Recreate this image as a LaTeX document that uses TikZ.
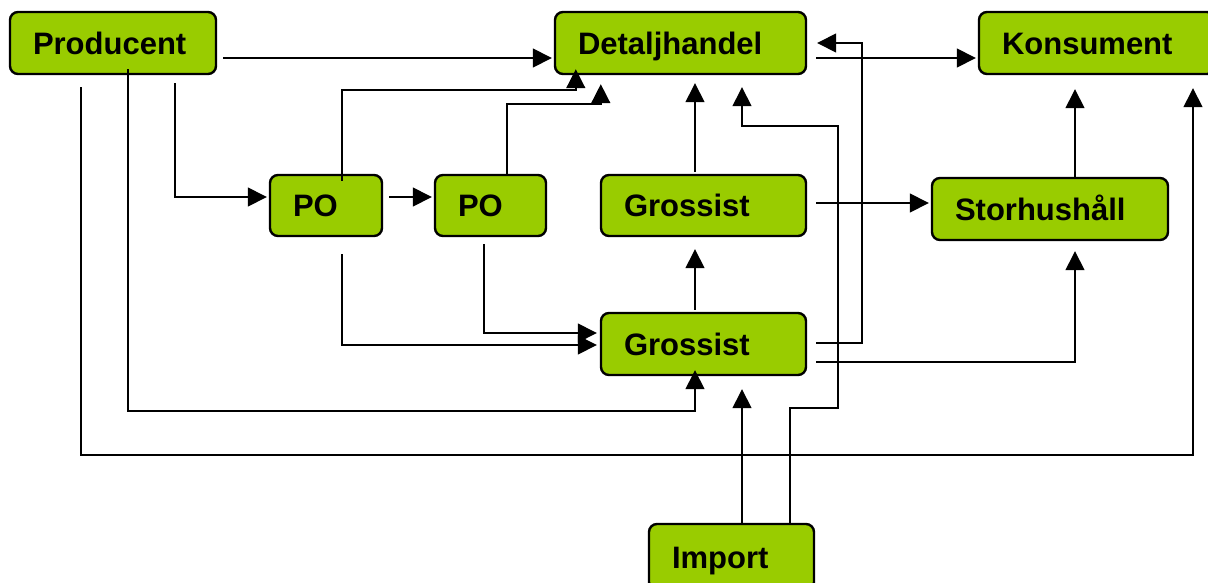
\documentclass[tikz,border=0pt]{standalone}
\usepackage{fontspec}
\setmainfont{Liberation Sans}
\usetikzlibrary{arrows.meta,calc}
\definecolor{boxgreen}{HTML}{99CC00}
\begin{document}
\begin{tikzpicture}[x=1pt,y=-1pt,
  box/.style={draw=black,fill=boxgreen,line width=2.4pt,rounded corners=8pt,
    minimum height=62pt,inner xsep=23pt,inner ysep=0pt,align=left,
    text height=22pt,text depth=0pt,
    font=\fontsize{31}{36}\selectfont\bfseries},
  conn/.style={line width=1.5pt,-{Triangle[length=19pt,width=19pt]}},
  plain/.style={line width=1.5pt}]
\useasboundingbox (0,0) rectangle (1208,582);
\clip (0,0) rectangle (1208,582);
% nodes
\node[box,text width=160pt] (prod) at (113,43) {Producent};
\node[box,text width=205pt] (det) at (680.5,43) {Detaljhandel};
\node[box,text width=190pt] (kon) at (1097,43) {Konsument};
\node[box,text width=66pt,minimum height=61pt] (po1) at (326,205.5) {PO};
\node[box,text width=65pt,minimum height=61pt] (po2) at (490.5,205.5) {PO};
\node[box,text width=159pt,minimum height=61pt] (g1) at (703.5,205.5) {Grossist};
\node[box,text width=190pt] (sto) at (1050,209) {Storhushåll};
\node[box,text width=159pt] (g2) at (703.5,344) {Grossist};
\node[box,text width=119pt,minimum height=66pt] (imp) at (731.5,557) {Import};
% connectors
\draw[conn] ([shift={(6,15)}]prod.east) -- ([shift={(-2,15)}]det.west);
\draw[conn] ([shift={(62,8)}]prod.south) |- ([shift={(-2,-8.5)}]po1.west);
\draw[conn] ([shift={(15,-6)}]prod.south) -- (128,411) -| ([shift={(-8.5,-6)}]g2.south);
\draw[conn] ([shift={(-32,12)}]prod.south) -- (81,455) -| ([shift={(96,13)}]kon.south);
\draw[conn] ([shift={(16,7)}]po1.north) -- (342,90) -| ([shift={(22,-6)}]det.south west);
\draw[conn] ([shift={(16.5,0)}]po2.north) -- (507,104) -| ([shift={(47,9)}]det.south west);
\draw[conn] ([shift={(6,-8.5)}]po1.east) -- ([shift={(-2,-8.5)}]po2.west);
\draw[conn] ([shift={(16,17)}]po1.south) |- ([shift={(-3,1)}]g2.west);
\draw[conn] ([shift={(-6.5,7)}]po2.south) |- ([shift={(-3,-11)}]g2.west);
\draw[conn] ([shift={(-8.5,-2)}]g1.north) -- ([shift={(14.5,8)}]det.south);
\draw[conn] ([shift={(-8.5,-2)}]g2.north) -- ([shift={(-8.5,12)}]g1.south);
\draw[conn] ([shift={(9,-2.5)}]g1.east) -- ([shift={(-2,-6)}]sto.west);
\draw[conn] ([shift={(25,0)}]sto.north) -- ([shift={(-22,14)}]kon.south);
\draw[conn] ([shift={(9,15)}]det.east) -- ([shift={(-2,15)}]kon.west);
\draw[conn] ([shift={(9,-1)}]g2.east) -- (862,343) |- ([shift={(10,0)}]det.east);
\draw[conn] ([shift={(9,18)}]g2.east) -| ([shift={(25,10)}]sto.south);
\draw[conn] ([shift={(10.5,0)}]imp.north) -- ([shift={(38.5,13)}]g2.south);
\draw[conn] ([shift={(58.5,0)}]imp.north) -- (790,408) -- (838,408) -- (838,126) -| ([shift={(61.5,12)}]det.south);
\end{tikzpicture}
\end{document}
